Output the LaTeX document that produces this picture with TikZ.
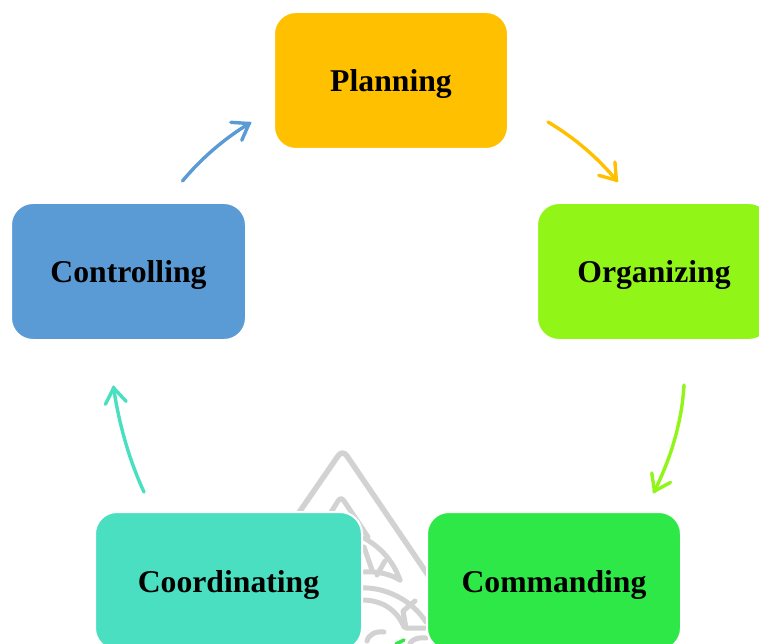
\documentclass[tikz,border=0pt]{standalone}
\usepackage{fontspec}
\setmainfont{Liberation Serif}
\usetikzlibrary{arrows.meta,positioning}
\definecolor{cplan}{HTML}{FFC000}
\definecolor{corg}{HTML}{92F518}
\definecolor{ccom}{HTML}{2EE847}
\definecolor{ccoord}{HTML}{4ADFC0}
\definecolor{cctrl}{HTML}{5B9BD5}
\definecolor{wm}{HTML}{D2D2D2}
\pgfarrowsdeclare{myvee}{myvee}{\pgfarrowsleftextend{-17pt}\pgfarrowsrightextend{0pt}}{%
  \pgfsetlinewidth{3.4pt}\pgfsetroundcap\pgfsetroundjoin\pgfsetdash{}{0pt}%
  \pgfpathmoveto{\pgfpoint{-16pt}{10.5pt}}%
  \pgfpathlineto{\pgfpoint{-1pt}{0pt}}%
  \pgfpathlineto{\pgfpoint{-16pt}{-10.5pt}}%
  \pgfusepathqstroke}
\tikzset{
  box/.style={rounded corners=22pt,draw=white,line width=2pt,inner sep=0pt,outer sep=0pt,
    text height=22pt,text depth=0pt,
    font=\fontsize{31.7}{36}\selectfont\bfseries,text=black},
  flow/.style={line width=3.4pt,line cap=round,-myvee},
  wmo/.style={draw=wm,line width=5.5pt,line cap=round,line join=round},
  wmi/.style={draw=wm,line width=5pt,line cap=round,line join=round}
}
\begin{document}
\begin{tikzpicture}[x=1pt,y=-1pt]
\path[use as bounding box,clip] (0,0) rectangle (759,644);
\fill[white] (0,0) rectangle (759,644);
% watermark
\draw[wmo] (298,514) -- (338,456) .. controls (341,452) and (344,452) .. (347,456) -- (430,578);
\draw[wmi] (320,530) -- (338,501) .. controls (340,498) and (342,498) .. (344,501) -- (368,537);
\draw[wmi] (364,538) .. controls (378,546) and (392,558) .. (400,580);
\draw[wmi] (364,547) -- (372,570);
\draw[wmi] (364,572) .. controls (377,571) and (390,574) .. (400,580);
\draw[wmi] (385,561) -- (377,575);
\draw[wmi] (362,588) .. controls (385,587) and (412,600) .. (426,622);
\draw[wmi] (362,600) .. controls (380,600) and (396,608) .. (404,627);
\draw[wmi] (415,601) -- (403,611) -- (406,628) -- (425,628);
\draw[wmi] (367,641) .. controls (369,634) and (376,631) .. (384,632);
\draw[wmi] (410,643) .. controls (413,639) and (419,637) .. (426,638);
\draw[line width=3.4pt,ccom,line cap=round] (396,644) -- (404,640);
% boxes
\node[box,fill=cplan,minimum width=234pt,minimum height=137pt] (planning) at (391,80.5) {Planning};
\node[box,fill=corg,minimum width=234pt,minimum height=137pt] (organizing) at (654,271.5) {Organizing};
\node[box,fill=ccom,minimum width=254pt,minimum height=138pt] (commanding) at (554,581) {Commanding};
\node[box,fill=ccoord,minimum width=267pt,minimum height=138pt] (coordinating) at (228.5,581) {Coordinating};
\node[box,fill=cctrl,minimum width=235pt,minimum height=137pt] (controlling) at (128.5,271.5) {Controlling};
% connectors
\draw[flow,cplan] ([xshift=40pt,yshift=-41.5pt]planning.east) .. controls (575,138) and (598,158) .. ([xshift=-37pt,yshift=22pt]organizing.north);
\draw[flow,corg] ([xshift=30pt,yshift=-45pt]organizing.south) .. controls (682,420) and (672,456) .. ([xshift=100pt,yshift=20pt]commanding.north);
\draw[flow,ccoord] ([xshift=-84.5pt,yshift=20pt]coordinating.north) .. controls (130,462) and (119,425) .. ([xshift=-15pt,yshift=-47pt]controlling.south);
\draw[flow,cctrl] ([xshift=54pt,yshift=22pt]controlling.north) .. controls (200,160) and (222,140) .. ([xshift=-24pt,yshift=-42.5pt]planning.west);
\end{tikzpicture}
\end{document}
